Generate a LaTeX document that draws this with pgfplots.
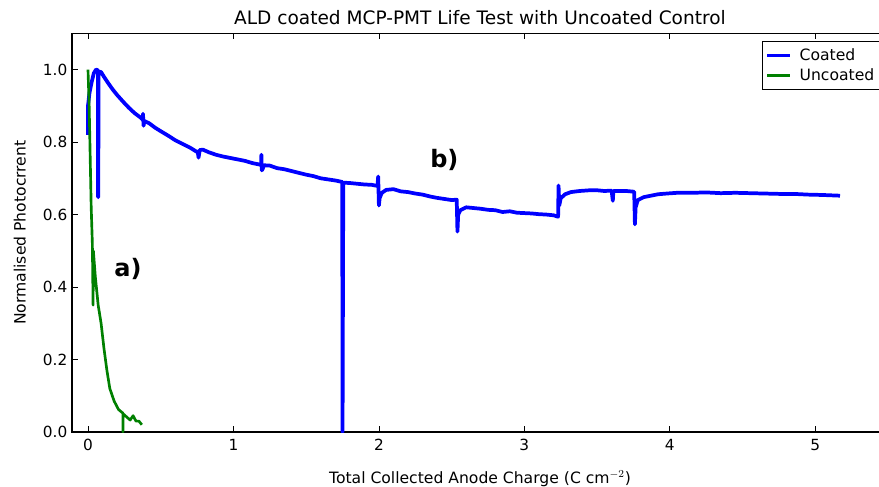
\documentclass[border=0pt]{standalone}
\usepackage{pgfplots}
\pgfplotsset{compat=1.18}
\usepackage{pgfplotstable}
\usepackage{fontspec}
\setmainfont{DejaVu Sans}
\definecolor{mplblue}{RGB}{0,0,255}
\definecolor{mplgreen}{RGB}{0,128,0}

\pgfplotstableread{
x y
0 0.82
0 0.90
0.01 0.935
0.025 0.965
0.04 0.99
0.055 1.0
0.068 0.998
0.069 0.648
0.071 0.648
0.072 0.995
0.09 0.993
0.11 0.98
0.14 0.962
0.17 0.945
0.20 0.93
0.24 0.912
0.28 0.895
0.32 0.88
0.36 0.868
0.375 0.862
0.378 0.878
0.382 0.845
0.388 0.858
0.42 0.852
0.46 0.84
0.50 0.83
0.55 0.818
0.60 0.805
0.65 0.795
0.70 0.785
0.74 0.775
0.755 0.772
0.76 0.757
0.768 0.778
0.79 0.779
0.83 0.772
0.88 0.765
0.93 0.76
0.98 0.756
1.03 0.752
1.08 0.748
1.13 0.742
1.18 0.738
1.19 0.736
1.192 0.765
1.195 0.722
1.20 0.725
1.21 0.736
1.25 0.735
1.30 0.728
1.35 0.725
1.40 0.72
1.45 0.715
1.50 0.71
1.55 0.706
1.60 0.70
1.65 0.697
1.70 0.694
1.748 0.69
1.75 0
1.755 0.688
1.80 0.687
1.85 0.685
1.90 0.683
1.95 0.682
1.99 0.679
1.995 0.705
2.0 0.625
2.005 0.645
2.02 0.66
2.05 0.668
2.10 0.670
2.15 0.664
2.20 0.662
2.25 0.658
2.30 0.655
2.35 0.65
2.40 0.646
2.45 0.643
2.50 0.64
2.535 0.641
2.54 0.553
2.545 0.600
2.56 0.612
2.60 0.62
2.65 0.618
2.70 0.616
2.75 0.613
2.80 0.612
2.85 0.607
2.90 0.609
2.95 0.605
3.00 0.604
3.05 0.603
3.10 0.601
3.15 0.600
3.20 0.598
3.232 0.594
3.235 0.68
3.24 0.625
3.25 0.645
3.28 0.656
3.32 0.662
3.38 0.665
3.45 0.667
3.50 0.667
3.55 0.665
3.60 0.666
3.608 0.638
3.612 0.665
3.65 0.665
3.70 0.665
3.755 0.663
3.76 0.573
3.765 0.62
3.78 0.64
3.82 0.648
3.87 0.652
3.92 0.656
3.98 0.658
4.05 0.66
4.15 0.66
4.25 0.661
4.35 0.659
4.45 0.66
4.55 0.659
4.65 0.658
4.75 0.657
4.85 0.657
4.95 0.655
5.05 0.654
5.17 0.652
}\coated

\pgfplotstableread{
x y
0 1.0
0.008 0.9
0.014 0.78
0.022 0.62
0.03 0.52
0.035 0.35
0.037 0.50
0.05 0.43
0.07 0.35
0.09 0.30
0.11 0.23
0.13 0.17
0.15 0.12
0.18 0.085
0.21 0.062
0.24 0.052
0.24 0
0.242 0.05
0.27 0.04
0.29 0.033
0.31 0.045
0.33 0.03
0.35 0.03
0.37 0.02
}\uncoated

\begin{document}
\begin{tikzpicture}
\begin{axis}[
    scale only axis,
    width=612pt, height=299pt,
    xmin=-0.11, xmax=5.5,
    ymin=0, ymax=1.1,
    xtick={0,1,2,3,4,5},
    ytick={0,0.2,0.4,0.6,0.8,1.0},
    yticklabel style={/pgf/number format/fixed,/pgf/number format/fixed zerofill,/pgf/number format/precision=1},
    /pgf/number format/assume math mode=true,
    tick align=inside,
    major tick length=4.5pt,
    tick style={black, line width=0.6pt},
    axis line style={line width=0.8pt},
    ticklabel style={font=\fontsize{11.5}{13}\selectfont},
    xticklabel style={yshift=-2pt},
    xlabel={Total Collected Anode Charge (C cm$^{-2}$)},
    ylabel={Normalised Photocrrent},
    label style={font=\fontsize{11.7}{14}\selectfont},
    xlabel style={yshift=-8pt},
    ylabel style={yshift=6pt},
    title={ALD coated MCP-PMT Life Test with Uncoated Control},
    title style={font=\fontsize{13.9}{16}\selectfont, yshift=-3pt},
    legend style={at={(1,1)}, anchor=north east, xshift=-5pt, yshift=-6pt,
        draw=black, line width=0.6pt, font=\fontsize{11.7}{14}\selectfont,
        row sep=1pt, inner sep=3pt},
    legend cell align=left,
]
\addplot[mplblue, line width=2.8pt, line join=round,
    legend image code/.code={\draw[mplblue, line width=2.2pt] (0cm,0cm) -- (0.6cm,0cm);}]
    table[x=x,y=y] {\coated};
\addlegendentry{\hspace{4pt}Coated}
\addplot[mplgreen, line width=2pt, line join=round,
    legend image code/.code={\draw[mplgreen, line width=2.2pt] (0cm,0cm) -- (0.6cm,0cm);}]
    table[x=x,y=y] {\uncoated};
\addlegendentry{\hspace{4pt}Uncoated}
\node[font=\bfseries\fontsize{18}{20}\selectfont] at (axis cs:0.275,0.45) {a)};
\node[font=\bfseries\fontsize{18}{20}\selectfont] at (axis cs:2.45,0.75) {b)};
\end{axis}
\pgfresetboundingbox
\useasboundingbox (-54pt,-40.5pt) rectangle (605.25pt,324pt);
\end{tikzpicture}
\end{document}
